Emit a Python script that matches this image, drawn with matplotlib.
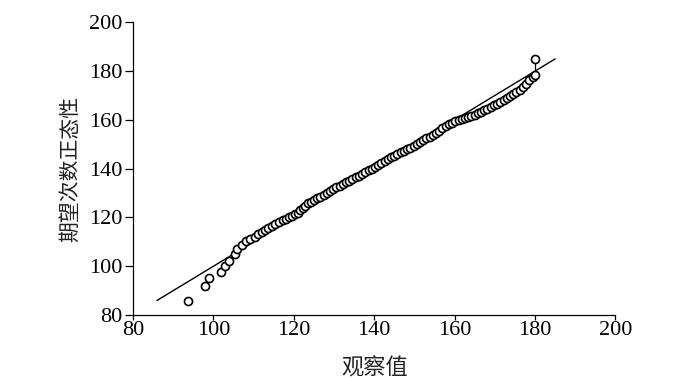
import matplotlib

matplotlib.use("Agg")

import matplotlib.pyplot as plt

observed = [93.8, 98.0, 99.0, 101.9, 103.0, 104.0, 105.3, 105.9, 107.0, 108.1,
            109.2, 110.3, 111.2, 112.0, 112.8, 113.7, 114.5, 115.4, 116.3, 117.2,
            118.0, 118.8, 119.6, 120.4, 121.0, 121.6, 122.2, 122.8, 123.5, 124.2,
            125.0, 125.8, 126.6, 127.4, 128.2, 129.0, 129.8, 130.6, 131.4, 132.2,
            133.0, 133.8, 134.6, 135.4, 136.2, 137.0, 137.8, 138.6, 139.4, 140.2,
            141.0, 141.8, 142.6, 143.4, 144.2, 145.0, 145.8, 146.6, 147.4, 148.2,
            149.0, 149.8, 150.6, 151.4, 152.2, 153.0, 153.8, 154.6, 155.4, 156.2,
            157.0, 157.8, 158.6, 159.4, 160.2, 161.0, 161.8, 162.6, 163.4, 164.2,
            165.0, 165.8, 166.6, 167.4, 168.2, 169.0, 169.8, 170.6, 171.4, 172.2,
            173.0, 173.8, 174.6, 175.4, 176.2, 177.0, 177.8, 178.6, 179.4, 180.0,
            180.0]
expected = [85.9, 92.0, 95.3, 97.6, 100.2, 102.3, 104.9, 107.0, 108.6, 110.3,
            111.3, 112.2, 113.1, 114.0, 114.8, 115.6, 116.4, 117.2, 118.1, 118.8,
            119.5, 120.2, 120.8, 121.3, 122.0, 123.0, 124.0, 124.9, 125.8, 126.5,
            127.2, 127.9, 128.6, 129.4, 130.1, 130.9, 131.6, 132.3, 133.0, 133.7,
            134.4, 135.1, 135.8, 136.5, 137.2, 137.9, 138.6, 139.3, 140.0, 140.6,
            141.4, 142.3, 143.2, 144.0, 144.7, 145.3, 146.0, 146.7, 147.3, 148.0,
            148.6, 149.4, 150.2, 151.0, 151.8, 152.6, 153.2, 154.0, 154.7, 155.6,
            156.6, 157.4, 158.2, 158.8, 159.4, 159.9, 160.4, 160.8, 161.2, 161.7,
            162.2, 162.7, 163.3, 163.9, 164.6, 165.3, 166.0, 166.7, 167.4, 168.2,
            169.0, 169.8, 170.6, 171.5, 172.4, 173.5, 174.8, 176.2, 177.5, 178.5,
            185.0]

# reference line y = x
ref_line = [86, 185]
ticks = [80, 100, 120, 140, 160, 180, 200]

serif = "Liberation Serif"
cjk = ["Noto Sans CJK SC", "DejaVu Sans"]

fig = plt.figure(figsize=(7, 3.8), dpi=100)
ax = fig.add_axes([0.19, 0.171, 0.689, 0.770])

ax.plot(ref_line, ref_line, color="black", linewidth=1.0)
ax.vlines(observed[-1], expected[-2], expected[-1], color="black", linewidth=0.9)
ax.plot(observed, expected, linestyle="none", marker="o", markersize=5.8,
        markerfacecolor="white", markeredgecolor="black", markeredgewidth=1.2)

ax.set_xlim(80, 200)
ax.set_ylim(80, 200)
ax.set_xticks(ticks)
ax.set_yticks(ticks)
ax.set_xticklabels([str(t) for t in ticks], fontfamily=serif, fontsize=16)
ax.set_yticklabels([str(t) for t in ticks], fontfamily=serif, fontsize=16)
ax.tick_params(axis="x", direction="out", length=3.5, width=0.9, pad=1)
ax.tick_params(axis="y", direction="out", length=5.5, width=0.9, pad=2)

for side in ("top", "right"):
    ax.spines[side].set_visible(False)
for side in ("left", "bottom"):
    ax.spines[side].set_linewidth(0.9)

ax.set_xlabel("观察值", family=cjk, fontsize=16, color="#222222", labelpad=12)
ax.set_ylabel("期望次数正态性", family=cjk, fontsize=15, color="#222222", labelpad=6)

fig.savefig("out.png")
